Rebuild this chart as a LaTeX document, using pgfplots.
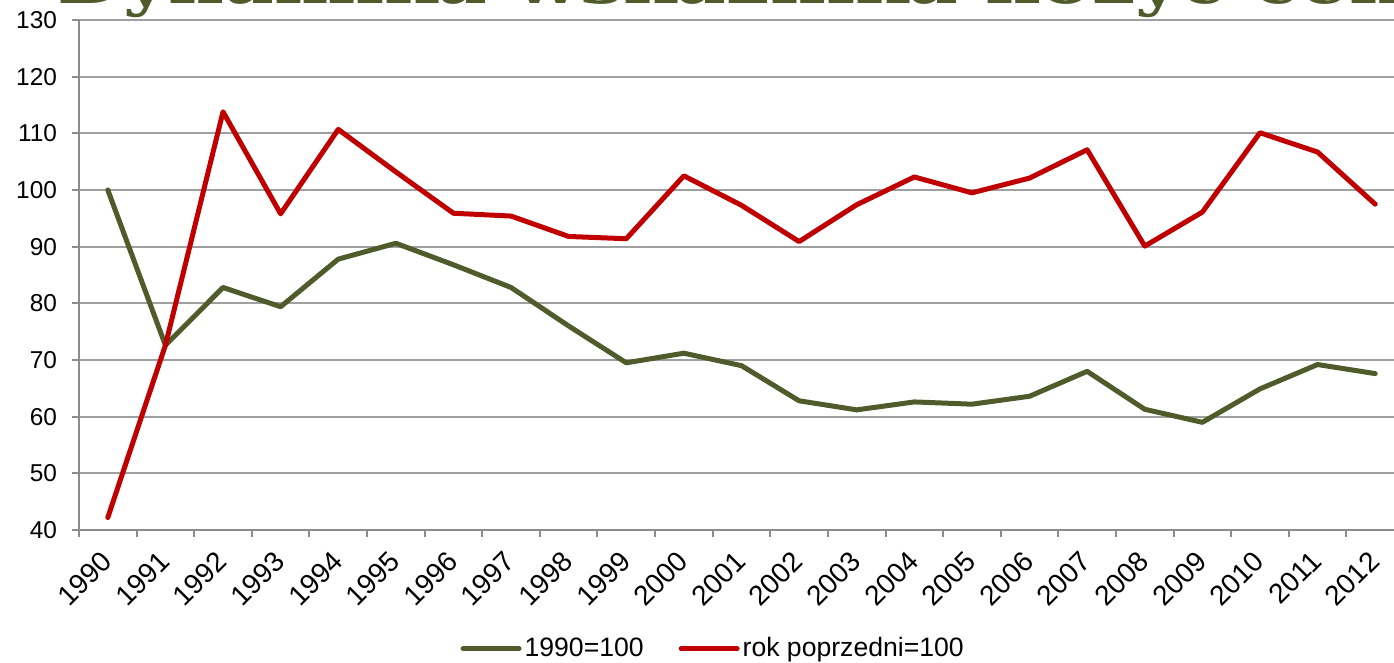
\documentclass[border=0pt]{standalone}
\usepackage{pgfplots}
\pgfplotsset{compat=1.18}
\usepackage{fontspec}
\setmainfont{Liberation Sans}
\newfontfamily\titlefont[FakeStretch=1.2]{DejaVu Serif}
\definecolor{olive}{RGB}{79,91,43}
\definecolor{dred}{RGB}{192,0,0}
\definecolor{gridgray}{RGB}{160,160,160}
\definecolor{axgray}{RGB}{140,140,140}
\begin{document}
\begin{tikzpicture}
\node[anchor=base west, text=olive, inner sep=0pt, font=\titlefont\bfseries\fontsize{32}{38}\selectfont] at (-11pt,263pt) {Dynamika wskaźnika nożyc cen};
\begin{axis}[
  at={(0,0)}, anchor=south west,
  scale only axis,
  width=662.5pt, height=255pt,
  xmin=-0.5, xmax=22.5,
  ymin=40, ymax=130,
  ytick={40,50,...,130},
  xtick={0,...,22},
  xticklabels={1990,1991,1992,1993,1994,1995,1996,1997,1998,1999,2000,2001,2002,2003,2004,2005,2006,2007,2008,2009,2010,2011,2012},
  minor xtick={-0.5,0.5,...,22.5},
  axis x line=bottom, axis y line=left,
  axis line style={-, draw=axgray, line width=1pt},
  ymajorgrids, major grid style={draw=gridgray, line width=1pt},
  tick align=outside,
  major tick length=3.5pt, minor tick length=3.5pt,
  xtick style={draw=none},
  minor x tick style={draw=axgray, line width=1pt},
  ytick style={draw=axgray, line width=1pt},
  /pgf/number format/assume math mode=true,
  yticklabel style={xshift=-4pt, font=\fontsize{12.2}{14}\selectfont},
  xticklabel style={xshift=-4pt, yshift=-3pt, rotate=45, anchor=north east, inner sep=2pt, font=\fontsize{14}{16}\selectfont},
  legend style={draw=none, fill=none, at={(0.479,-0.233)}, anchor=center, font=\fontsize{13.3}{16}\selectfont, inner sep=0pt, nodes={inner xsep=1.5pt}},
  legend columns=2,
  legend cell align=left,
  /tikz/every even column/.append style={column sep=16pt},
  legend image code/.code={\draw[#1, line width=2.5pt, line cap=round] (0pt,0pt) -- (28pt,0pt);},
  clip=false,
]
\addplot[olive, line width=2.5pt, line join=round, line cap=round] coordinates {
(0,100) (1,72.6) (2,82.8) (3,79.4) (4,87.8) (5,90.6) (6,86.8) (7,82.8) (8,76.0) (9,69.5) (10,71.2) (11,69.0) (12,62.8) (13,61.2) (14,62.6) (15,62.2) (16,63.6) (17,68.0) (18,61.3) (19,59.0) (20,64.9) (21,69.2) (22,67.6)
};
\addlegendentry{1990=100}
\addplot[dred, line width=2.5pt, line join=round, line cap=round] coordinates {
(0,42.2) (1,72.6) (2,113.8) (3,95.8) (4,110.7) (5,103.2) (6,95.9) (7,95.4) (8,91.8) (9,91.4) (10,102.5) (11,97.3) (12,90.9) (13,97.4) (14,102.3) (15,99.5) (16,102.1) (17,107.1) (18,90.1) (19,96.1) (20,110.1) (21,106.7) (22,97.5)
};
\addlegendentry{rok poprzedni=100}
\end{axis}
\pgfresetboundingbox
\path[use as bounding box] (-39.5pt,-66.5pt) rectangle (657.5pt,265pt);
\end{tikzpicture}
\end{document}
